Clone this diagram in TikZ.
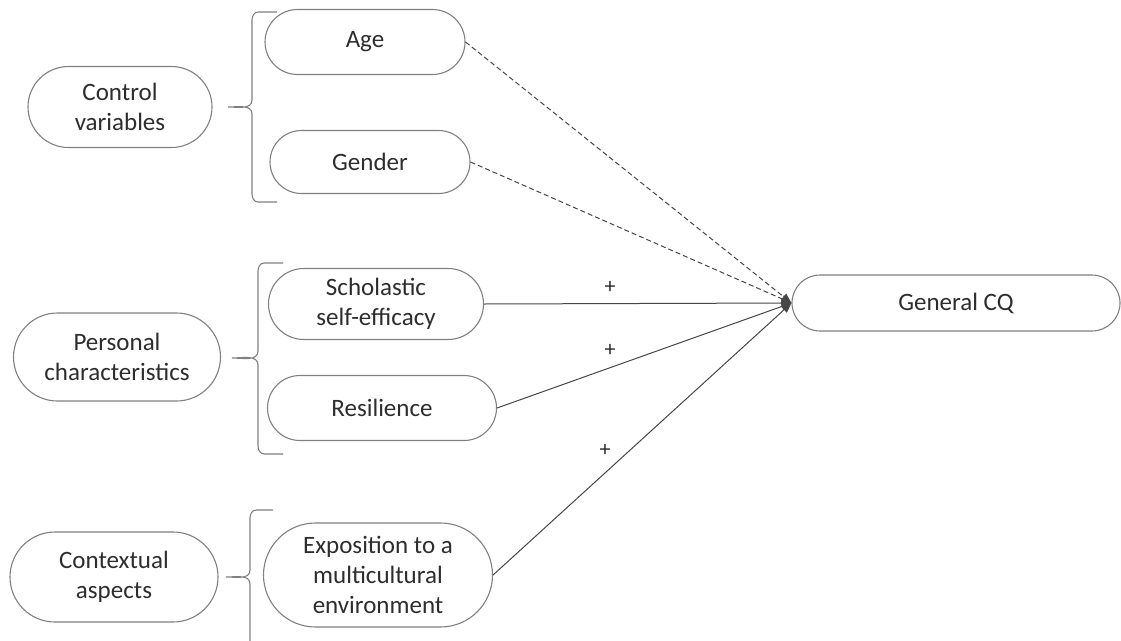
\documentclass[tikz,border=0pt]{standalone}
\usepackage{fontspec}
\setmainfont{Carlito}
\usetikzlibrary{shapes.misc,arrows.meta}
\definecolor{boxline}{RGB}{128,128,128}
\definecolor{txt}{RGB}{45,45,45}
\definecolor{conn}{RGB}{70,70,70}
\tikzset{
  box/.style={rounded rectangle, draw=boxline, line width=1.1pt, align=center,
    text=txt, font=\fontsize{25}{30}\selectfont, inner sep=0pt},
  link/.style={draw=conn, line width=1pt, -{Triangle[length=10pt,width=8pt]}},
  dlink/.style={link, dash pattern=on 5pt off 3pt},
  brace/.style={draw=boxline, line width=1.1pt},
  plus/.style={text=txt, font=\fontsize{22}{24}\selectfont, inner sep=0pt}
}
\begin{document}
\begin{tikzpicture}[x=1pt,y=-1pt]
\useasboundingbox (0,0) rectangle (1121,640);
\clip (0,0) rectangle (1121,640);
% left category nodes
\node[box, minimum width=184pt, minimum height=81pt] (ctrl) at (120,107) {Control\\variables};
\node[box, minimum width=207pt, minimum height=88pt] (pers) at (117,357) {Personal\\characteristics};
\node[box, minimum width=208pt, minimum height=90pt] (cont) at (114,577) {Contextual\\aspects};
% variable nodes
\node[box, minimum width=200pt, minimum height=65pt] (age) at (365,42) {Age};
\node[box, minimum width=200pt, minimum height=63pt] (gender) at (370,162) {Gender};
\node[box, minimum width=215pt, minimum height=71pt] (schol) at (376,304) {Scholastic\\self-efficacy};
\node[box, minimum width=229pt, minimum height=65pt] (resil) at (382,408) {Resilience};
\node[box, minimum width=229pt, minimum height=104pt] (expo) at (378,575) {Exposition to a\\multicultural\\environment};
% outcome
\node[box, minimum width=328pt, minimum height=56pt] (gcq) at (956,303) {General CQ};
% braces
\coordinate (b1) at (228,107);
\coordinate (b2) at (232,358);
\coordinate (b3) at (226,577);
\draw[brace] (277,12) -- (258,12) to[out=180,in=90] (252,20) -- (252,100)
  to[out=-90,in=0] (b1) to[out=0,in=90] (252,114) -- (252,194)
  to[out=-90,in=180] (258,202) -- (277,202);
\draw[brace] (283,263) -- (264,263) to[out=180,in=90] (258,271) -- (258,351)
  to[out=-90,in=0] (b2) to[out=0,in=90] (258,365) -- (258,446)
  to[out=-90,in=180] (264,454) -- (283,454);
\draw[brace] (273,510) -- (256,510) to[out=180,in=90] (250,518) -- (250,570)
  to[out=-90,in=0] (b3) to[out=0,in=90] (250,584) -- (250,660);
% connectors
\draw[dlink] (age.east) -- (gcq.west);
\draw[dlink] (gender.east) -- (gcq.west);
\draw[link] (schol.east) -- (gcq.west);
\draw[link] (resil.east) -- (gcq.west);
\draw[link] (expo.east) -- (gcq.west);
% labels
\node[plus] (p1) at (610,287) {+};
\node[plus] (p2) at (610,350) {+};
\node[plus] (p3) at (605,450) {+};
\end{tikzpicture}
\end{document}
